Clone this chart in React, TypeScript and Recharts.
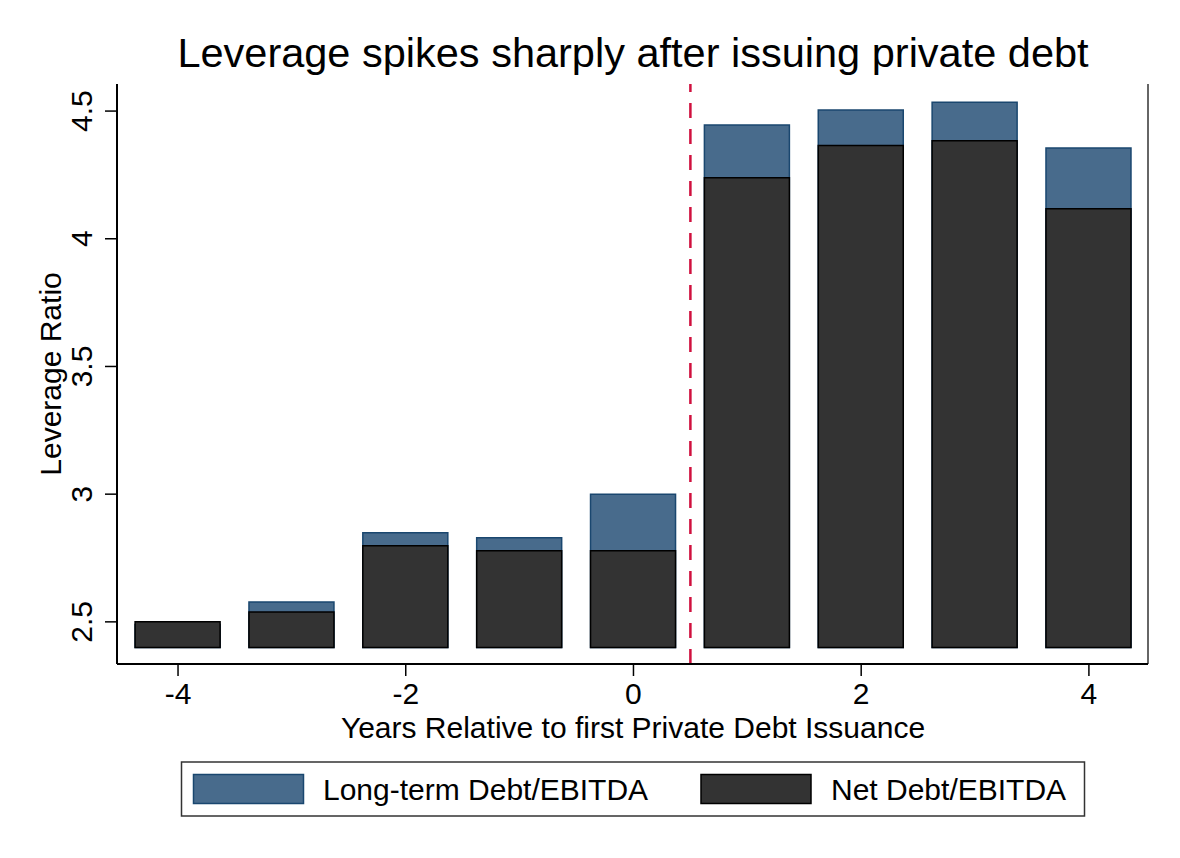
import { Bar, ComposedChart, ReferenceLine, XAxis, YAxis } from "recharts"

// years relative to the first private debt issuance
const years = [-4, -3, -2, -1, 0, 1, 2, 3, 4]
const longTermDebtEbitda = [2.49, 2.578, 2.849, 2.829, 3.0, 4.445, 4.504, 4.535, 4.355]
const netDebtEbitda = [2.5, 2.539, 2.798, 2.778, 2.778, 4.239, 4.365, 4.384, 4.118]

const xTicks = [-4, -2, 0, 2, 4]
const yTicks = [2.5, 3, 3.5, 4, 4.5]

const BAR_BASE = 2.4
const ISSUANCE_LINE = 0.5
const X_DOMAIN: [number, number] = [-4.536, 4.519]
const Y_DOMAIN: [number, number] = [2.335, 4.606]

const FONT = "'Liberation Sans', Arial, Helvetica, sans-serif"
const TEXT_SIZE = 30
const BLUE = "#486b8c"
const BLUE_EDGE = "#1a476f"
const DARK = "#333333"

const rows = years.map((year, i) => ({
  year,
  longTerm: [BAR_BASE, longTermDebtEbitda[i]],
  net: [BAR_BASE, netDebtEbitda[i]],
}))

function XTick({ x, y, payload }: any) {
  return (
    <text x={x} y={y + 28} textAnchor="middle" fontSize={TEXT_SIZE} fontFamily={FONT} fill="#000">
      {payload.value}
    </text>
  )
}

function YTick({ x, y, payload }: any) {
  const bx = x - 13
  return (
    <text
      x={bx}
      y={y}
      transform={`rotate(-90 ${bx} ${y})`}
      textAnchor="middle"
      fontSize={TEXT_SIZE}
      fontFamily={FONT}
      fill="#000"
    >
      {payload.value}
    </text>
  )
}

export default function App() {
  return (
    <div style={{ position: "absolute", left: 0, top: 0, width: 1180, height: 858, background: "#fff" }}>
      <ComposedChart
        width={1180}
        height={858}
        data={rows}
        margin={{ top: 84, right: 32, left: 0, bottom: 134 }}
      >
        <XAxis
          xAxisId="main"
          dataKey="year"
          type="number"
          domain={X_DOMAIN}
          allowDataOverflow
          ticks={xTicks}
          height={60}
          tickSize={12}
          tickMargin={0}
          tick={<XTick />}
          tickLine={{ stroke: "#000", strokeWidth: 1.5 }}
          axisLine={{ stroke: "#000", strokeWidth: 2 }}
        />
        <XAxis
          xAxisId="back"
          dataKey="year"
          type="number"
          orientation="top"
          domain={X_DOMAIN}
          allowDataOverflow
          height={0}
          tick={false}
          tickLine={false}
          axisLine={{ stroke: "#333", strokeWidth: 1.5 }}
        />
        <YAxis
          type="number"
          domain={Y_DOMAIN}
          allowDataOverflow
          ticks={yTicks}
          width={117}
          tickSize={12}
          tickMargin={0}
          tick={<YTick />}
          tickLine={{ stroke: "#000", strokeWidth: 1.5 }}
          axisLine={{ stroke: "#000", strokeWidth: 2 }}
        />
        <ReferenceLine xAxisId="main" x={X_DOMAIN[1]} stroke="#333" strokeWidth={1.5} />
        <Bar
          xAxisId="back"
          dataKey="longTerm"
          barSize={85}
          fill={BLUE}
          stroke={BLUE_EDGE}
          strokeWidth={1.5}
          isAnimationActive={false}
        />
        <Bar
          xAxisId="main"
          dataKey="net"
          barSize={85}
          fill={DARK}
          stroke="#000"
          strokeWidth={1.5}
          isAnimationActive={false}
        />
        <ReferenceLine
          xAxisId="main"
          x={ISSUANCE_LINE}
          stroke="#d0103e"
          strokeWidth={2.5}
          strokeDasharray="15 11"
        />
      </ComposedChart>

      <svg
        width={1180}
        height={858}
        style={{ position: "absolute", left: 0, top: 0, pointerEvents: "none" }}
        fontFamily={FONT}
      >
        <text x={633} y={67} textAnchor="middle" fontSize={41.5} fill="#000">
          Leverage spikes sharply after issuing private debt
        </text>
        <text x={633} y={738} textAnchor="middle" fontSize={TEXT_SIZE} fill="#000">
          Years Relative to first Private Debt Issuance
        </text>
        <text
          x={61}
          y={374}
          transform="rotate(-90 61 374)"
          textAnchor="middle"
          fontSize={TEXT_SIZE}
          fill="#000"
        >
          Leverage Ratio
        </text>

        {/* legend */}
        <rect x={181.5} y={762} width={903} height={54} fill="#fff" stroke="#333" strokeWidth={1.5} />
        <rect x={193.5} y={774.5} width={110} height={29} fill={BLUE} stroke={BLUE_EDGE} strokeWidth={1.5} />
        <text x={323} y={800} fontSize={TEXT_SIZE} fill="#000">
          Long-term Debt/EBITDA
        </text>
        <rect x={701} y={774.5} width={110} height={29} fill={DARK} stroke="#000" strokeWidth={1.5} />
        <text x={831} y={800} fontSize={TEXT_SIZE} fill="#000">
          Net Debt/EBITDA
        </text>
      </svg>
    </div>
  )
}
